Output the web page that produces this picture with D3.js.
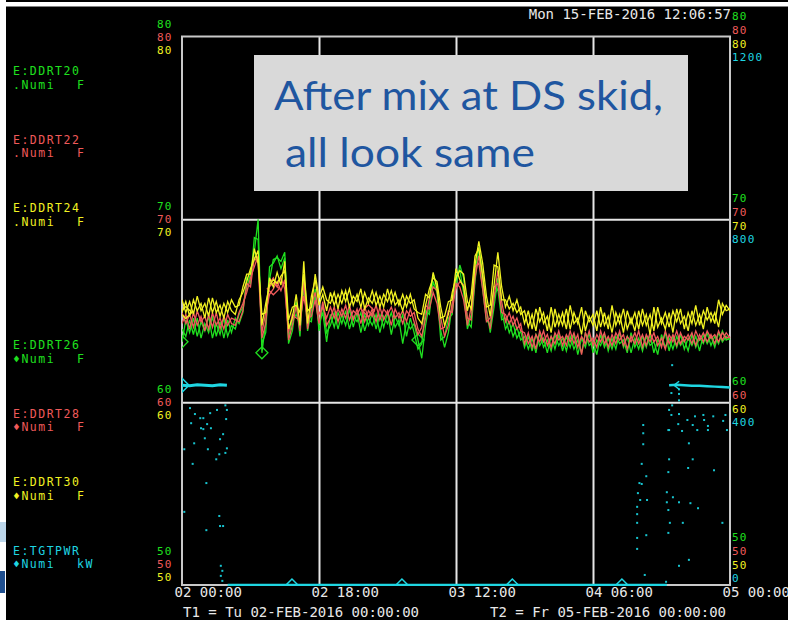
<!DOCTYPE html>
<html>
<head>
<meta charset="utf-8">
<script src="https://cdn.jsdelivr.net/npm/d3@7"></script>
<style>
  html, body { margin: 0; padding: 0; background: #000; overflow: hidden; }
  svg { display: block; }
  .mono { font-family: "DejaVu Sans Mono", "Liberation Mono", monospace; }
</style>
</head>
<body>
<div id="chart"></div>
<script>
// ---- data ----
var seriesNames = ["E:DDRT20", "E:DDRT22", "E:DDRT24", "E:DDRT26", "E:DDRT28", "E:DDRT30", "E:TGTPWR"];
var seriesUnits = ["F", "F", "F", "F", "F", "F", "kW"];
var seriesMarks = [".", ".", ".", "\u2666", "\u2666", "\u2666", "\u2666"];

var tempTicks = [80, 70, 60, 50];
var powerTicks = [1200, 800, 400, 0];
var xTickHours = [0, 18, 36, 54, 72];
var stampText = "Mon 15-FEB-2016 12:06:57";
var t1Text = "T1 = Tu 02-FEB-2016 00:00:00";
var t2Text = "T2 = Fr 05-FEB-2016 00:00:00";
var noteLines = ["After mix at DS skid,", "all look same"];

// temperatures (F), one sample every 30 min from 02-FEB 00:00
var sampleMinutes = 30;
var ddrt20 = [64.0,63.6,64.5,63.7,64.6,63.5,64.3,63.8,64.7,63.6,64.4,63.5,64.5,63.8,64.6,64.3,
  64.9,66.8,66.5,69.0,68.9,63.2,63.8,67.4,67.6,68.0,67.3,67.9,63.5,64.5,64.8,64.2,66.2,64.5,64.4,66.2,63.9,65.3,63.8,
  64.2,64.9,64.0,64.8,64.2,65.1,64.1,64.9,63.8,64.8,64.2,64.9,64.0,64.8,64.1,64.9,63.7,64.7,64.2,64.8,63.6,64.6,
  63.8,62.9,63.2,65.0,64.8,66.6,66.0,63.4,63.6,64.6,64.8,67.0,67.2,66.0,64.0,64.8,67.4,68.0,66.2,64.5,64.2,65.9,66.2,64.5,64.6,63.8,64.3,63.5,63.9,
  63.0,63.6,62.8,63.7,63.1,63.5,62.7,63.6,62.9,63.7,
  62.8,63.6,63.0,63.7,62.6,63.5,63.0,63.8,62.7,63.4,
  63.1,63.7,62.8,63.5,62.9,63.8,63.0,63.6,62.7,63.5,
  62.9,63.6,63.0,63.7,62.7,63.4,63.1,63.8,62.8,63.6,
  63.0,63.7,62.9,63.5,63.1,63.6,62.8,63.7,63.2,63.6,
  63.0,63.8,63.3,63.6,63.4];
var ddrt22 = [64.3,64.8,64.0,64.9,64.2,64.7,63.9,64.8,64.1,64.9,64.0,64.7,64.2,64.6,64.5,64.4,
  65.0,66.5,66.3,67.9,67.6,63.5,64.3,66.5,66.8,66.3,66.8,66.2,63.8,64.8,64.6,64.5,65.8,64.6,64.7,65.6,64.3,65.5,64.2,
  64.6,65.2,64.4,65.1,64.6,65.3,64.5,65.1,64.3,65.2,64.6,65.1,64.4,65.2,64.5,65.0,64.2,65.1,64.6,65.0,64.4,65.1,
  64.4,63.7,64.1,65.3,65.1,66.0,65.4,64.0,64.1,65.0,64.9,66.5,66.3,65.6,64.2,65.2,67.4,67.6,66.2,64.4,64.6,66.3,66.5,64.9,64.8,64.3,64.7,64.0,64.3,
  63.2,63.8,63.0,63.7,63.3,63.9,63.1,63.6,63.2,63.9,
  63.1,63.7,63.3,63.8,63.0,63.6,63.2,63.9,63.1,63.7,
  63.3,63.8,63.0,63.7,63.2,63.9,63.1,63.6,63.3,63.8,
  63.2,63.7,63.1,63.8,63.3,63.6,63.0,63.9,63.2,63.7,
  63.1,63.8,63.3,63.7,63.2,63.9,63.4,63.8,63.3,63.7,
  63.2,63.9,63.4,63.8,63.5];
var ddrt24 = [64.9,65.5,64.7,65.6,65.0,65.4,64.6,65.7,64.9,65.5,64.7,65.4,64.9,65.6,65.2,65.3,
  66.3,67.0,67.0,68.4,67.6,64.8,64.9,66.8,66.3,67.1,66.4,67.7,64.5,65.2,65.3,64.9,67.0,65.0,65.2,67.0,65.7,66.3,65.6,
  65.4,66.0,65.1,66.1,65.5,66.2,65.3,65.9,65.2,66.0,65.4,66.1,65.3,65.8,65.2,66.2,65.4,66.0,65.3,65.9,65.2,65.9,
  65.1,64.9,64.8,65.9,65.7,67.1,66.2,64.6,64.7,65.5,65.6,67.3,66.7,66.3,65.0,65.9,68.0,68.4,66.9,65.2,65.3,67.5,67.4,65.6,65.6,65.1,65.4,64.9,65.2,
  64.3,65.0,64.0,65.1,64.4,64.9,63.9,65.2,64.1,64.8,
  64.2,65.1,64.0,64.9,64.3,65.2,63.9,64.7,64.2,65.0,
  64.1,64.9,64.0,65.3,64.2,64.8,63.8,65.0,64.3,64.9,
  64.0,65.1,64.2,64.8,63.9,65.2,64.3,64.9,64.1,65.0,
  64.4,65.1,64.0,64.9,64.3,65.3,64.2,65.0,64.5,64.9,
  64.3,65.6,64.8,65.3,65.0];
var ddrt26 = [63.3,64.5,63.8,64.6,63.6,64.4,63.9,64.7,63.5,64.3,63.7,64.6,63.6,64.2,64.0,64.8,
  65.2,66.3,67.0,68.2,70.0,62.7,64.4,66.7,67.8,67.9,67.7,68.2,63.2,63.9,65.5,63.6,66.9,63.9,65.0,65.8,64.3,64.9,63.3,
  64.8,64.1,64.9,64.3,65.0,64.0,64.7,64.4,64.9,63.9,64.6,64.2,64.8,63.8,64.7,64.3,64.9,64.1,64.5,63.2,64.4,64.0,
  64.3,63.4,62.4,64.2,65.4,67.0,66.4,63.9,63.0,63.8,65.3,66.4,67.5,66.8,64.4,64.1,66.6,68.5,67.0,65.1,63.8,65.2,66.8,65.0,64.0,64.4,63.6,64.1,63.4,
  63.6,62.9,63.5,62.7,63.8,63.0,63.4,62.8,63.7,63.1,
  63.5,62.8,63.6,62.9,63.4,62.7,63.8,63.1,63.3,62.6,
  63.7,63.0,63.5,62.9,63.6,63.2,63.4,62.7,63.8,63.0,
  63.5,62.8,63.6,63.1,63.3,62.6,63.7,63.0,63.5,62.9,
  63.6,63.1,63.4,62.8,63.7,63.0,63.5,63.2,63.8,63.1,
  63.6,63.2,63.9,63.4,63.5];
var ddrt28 = [64.9,64.3,64.8,64.1,65.0,64.4,64.7,64.0,64.9,64.2,64.6,64.0,64.8,64.3,64.2,64.9,
  65.4,66.0,66.8,67.4,68.0,63.8,64.9,65.9,66.2,66.6,66.1,66.7,63.4,64.2,65.3,63.9,66.6,64.0,65.3,66.0,64.8,65.2,64.6,
  65.2,64.6,65.1,64.7,65.3,64.5,65.0,64.8,65.2,64.4,65.0,64.7,65.3,64.5,65.1,64.8,65.2,64.6,64.9,64.3,65.0,64.7,
  64.9,64.0,63.6,64.6,65.7,66.3,66.1,64.6,63.6,64.2,65.4,66.2,66.6,66.4,64.6,64.5,66.8,68.0,66.9,65.0,64.0,65.7,67.2,65.5,64.4,64.9,64.2,64.6,63.9,
  63.8,63.2,63.6,62.9,63.9,63.3,63.7,63.0,63.8,63.4,
  63.6,63.1,63.9,63.2,63.7,62.6,63.8,63.3,63.5,63.0,
  63.9,63.2,63.6,63.1,63.8,63.4,63.7,62.9,63.6,63.2,
  63.9,63.0,63.7,63.3,63.8,63.1,63.5,62.9,63.7,63.3,
  63.9,63.2,63.6,63.4,63.8,63.1,63.7,63.3,63.9,63.5,
  63.7,63.3,63.8,63.5,63.6];
var ddrt30 = [65.6,64.9,65.5,64.8,65.8,65.0,65.4,64.7,65.7,64.9,65.3,64.6,65.5,65.0,64.8,65.6,
  66.0,66.6,67.3,67.8,68.3,64.2,65.4,66.4,66.7,66.5,66.9,67.2,64.0,64.6,65.9,64.2,67.7,64.3,65.8,66.7,65.3,65.9,65.0,
  66.0,65.3,65.9,65.4,66.1,65.2,65.8,65.5,66.2,65.1,65.7,65.4,66.0,65.2,65.9,65.5,66.1,65.3,65.6,65.0,65.8,65.4,
  65.6,64.6,64.3,65.3,66.2,66.8,66.6,65.2,64.2,64.8,66.0,66.8,67.2,67.0,65.5,65.1,67.5,68.8,67.6,65.8,64.7,66.4,68.2,66.3,65.2,65.8,65.0,65.6,64.8,
  65.0,64.1,64.8,63.9,65.2,64.3,64.7,63.8,65.1,64.2,
  64.9,64.0,65.3,64.3,64.6,63.7,65.0,64.4,64.8,63.9,
  65.2,64.2,64.7,63.8,64.9,64.3,65.1,64.0,64.6,63.9,
  65.0,64.2,64.8,63.7,65.2,64.1,64.6,64.0,64.9,63.8,
  65.1,64.3,64.7,63.9,65.0,64.2,64.8,64.0,65.2,64.4,
  64.9,64.1,65.4,65.0,65.1];

// sample indexes that carry a diamond marker (DDRT26 / 28 / 30)
var mark26 = [0, 21, 62];
var mark28 = [24, 49];
var mark30 = [1];

// target power: continuous trace (NaN = gap), hours / kW
var pwrHours = [0, 1, 2, 3, 4, 5, 5.9, 5.95, 6.0, 63.7, 63.8, 64.0, 65, 66, 67, 68, 69, 70, 71, 72];
var pwrKw = [437, 436, 438, 437, 436, 438, 437, NaN, 0, 0, NaN, 437, 438, 437, 436, 436, 435, 434, 433, 432];
// power markers (hours)
var pwrTriHours = [14.45, 28.9, 43.4, 57.8];
// scattered power samples [hour, kW]
var pwrDots = [
  [1.05,387],[1.7,374],[2.4,365],[2.8,365],[3.7,376],[4.6,383],[5.7,393],[5.9,383],[5.8,363],
  [1.2,354],[2.5,343],[2.8,341],[3.3,352],[3.8,343],[3.0,321],[5.4,330],[5.0,319],[1.6,310],
  [0.3,297],[3.4,297],[5.9,299],[4.9,286],[5.7,289],[4.5,275],[1.4,265],[3.2,223],[0.3,160],
  [4.9,151],[5.0,129],[5.4,129],[3.2,120],[5.1,42],[5.3,31],[5.1,20],[5.3,9],
  [64.3,420],[65.3,428],[65.3,418],[65.3,404],[64.4,393],[64.0,383],[64.3,372],[65.3,374],
  [66.4,361],[67.4,369],[68.5,372],[68.6,361],[69.1,348],[69.8,369],[71.4,372],[71.1,359],
  [71.6,339],[65.2,352],[67.1,350],[67.7,339],[65.7,337],[66.6,310],[69.1,339],[64.0,339],
  [60.6,350],[60.6,332],[60.6,308],[60.4,265],[61.0,238],[60.1,223],[60.4,221],[59.9,201],
  [60.2,186],[61.1,186],[59.8,171],[59.8,155],[59.8,136],[61.0,109],[59.8,103],[59.8,79],
  [60.8,22],[63.9,339],[64.0,275],[63.9,247],[63.7,203],[63.7,181],[63.9,164],[64.1,136],
  [63.9,114],[64.5,192],[65.3,181],[66.8,179],[65.8,136],[67.8,168],[71.0,136],[69.9,251],
  [66.6,55],[65.3,42],[67.1,275],[66.5,256],[63.6,7],[64.4,481]
];

// ---- layout ----
var svgWidth = 788, svgHeight = 620;
var plot = { left: 182, right: 730, top: 36.5, bottom: 585 };
var green = "#1fe01f", red = "#f05a5a", yellow = "#f2f222", cyan = "#1fd6e2";
var labelColors = [green, red, yellow, green, red, yellow, cyan];
var stackColors = [green, red, yellow];

var svg = d3.select("#chart")
  .append("svg")
  .attr("width", svgWidth)
  .attr("height", svgHeight);

svg.append("rect")
  .attr("width", svgWidth).attr("height", svgHeight)
  .attr("fill", "#000");

// slide edges behind the screenshot
svg.append("rect").attr("x", 0).attr("y", 2).attr("width", svgWidth).attr("height", 4.5).attr("fill", "#fff");
svg.append("rect").attr("x", 0).attr("y", 0).attr("width", 6).attr("height", svgHeight).attr("fill", "#fff");
svg.append("rect").attr("x", 0).attr("y", 522).attr("width", 6).attr("height", 20).attr("fill", "#bcd6ea");
svg.append("rect").attr("x", 0).attr("y", 571).attr("width", 5).attr("height", 22).attr("fill", "#1f4f8f");

// scales
var t0 = new Date(2016, 1, 2, 0, 0);
var t1 = d3.timeHour.offset(t0, 72);
var x = d3.scaleTime().domain([t0, t1]).range([plot.left, plot.right]);
var yT = d3.scaleLinear().domain([50, 80]).range([plot.bottom, plot.top]);
var yP = d3.scaleLinear().domain([0, 1200]).range([plot.bottom, plot.top]);
var hourToDate = function(h) { return d3.timeMinute.offset(t0, Math.round(h * 60)); };
var plotW = plot.right - plot.left, plotH = plot.bottom - plot.top;

// grid
svg.append("g")
  .attr("transform", `translate(0, ${plot.bottom})`)
  .call(d3.axisBottom(x).tickValues(xTickHours.slice(1, -1).map(hourToDate)).tickSize(-plotH).tickFormat(""))
  .call(g => g.select(".domain").remove())
  .selectAll("line").attr("stroke", "#e6e6e6").attr("stroke-width", 2);

svg.append("g")
  .attr("transform", `translate(${plot.left}, 0)`)
  .call(d3.axisLeft(yT).tickValues(tempTicks.slice(1, -1)).tickSize(-plotW).tickFormat(""))
  .call(g => g.select(".domain").remove())
  .selectAll("line").attr("stroke", "#e6e6e6").attr("stroke-width", 2);

svg.append("rect")
  .attr("x", plot.left).attr("y", plot.top)
  .attr("width", plotW).attr("height", plotH)
  .attr("fill", "none").attr("stroke", "#c8c8c8").attr("stroke-width", 2);

svg.append("clipPath").attr("id", "clip")
  .append("rect").attr("x", plot.left).attr("y", plot.top - 2)
  .attr("width", plotW + 1).attr("height", plotH + 3);

var chart = svg.append("g").attr("clip-path", "url(#clip)");

// power trace
var pwrData = pwrHours.map((h, i) => ({ t: hourToDate(h), v: pwrKw[i] }));
var pwrLine = d3.line().defined(d => !isNaN(d.v)).x(d => x(d.t)).y(d => yP(d.v));
chart.append("path")
  .datum(pwrData.slice(0, 8))
  .attr("d", pwrLine).attr("fill", "none").attr("stroke", cyan).attr("stroke-width", 3);
chart.append("path")
  .datum(pwrData.slice(7))
  .attr("d", pwrLine).attr("fill", "none").attr("stroke", cyan).attr("stroke-width", 2.5);

chart.append("g").selectAll("rect")
  .data(pwrDots)
  .enter()
  .append("rect")
  .attr("x", d => x(hourToDate(d[0])) - 1)
  .attr("y", d => yP(d[1]) - 1)
  .attr("width", 2).attr("height", 2)
  .attr("fill", "#17c4cf");

// start marker (pointing right) and re-entry marker (pointing left)
var startPt = [x(hourToDate(pwrHours[0])), yP(pwrKw[0])];
chart.append("path")
  .attr("d", `M${startPt[0]},${startPt[1] - 7}L${startPt[0] + 7},${startPt[1]}L${startPt[0]},${startPt[1] + 7}Z`)
  .attr("fill", "none").attr("stroke", cyan).attr("stroke-width", 1.5);
var backPt = [x(hourToDate(pwrHours[11])) + 5, yP(pwrKw[11])];
chart.append("path")
  .attr("d", `M${backPt[0] + 5},${backPt[1] - 4}L${backPt[0]},${backPt[1]}L${backPt[0] + 5},${backPt[1] + 4}`)
  .attr("fill", "none").attr("stroke", cyan).attr("stroke-width", 1.5);

chart.append("g").selectAll("path")
  .data(pwrTriHours)
  .enter()
  .append("path")
  .attr("d", h => {
    var cx = x(hourToDate(h)), cy = yP(0);
    return `M${cx - 6},${cy}L${cx},${cy - 6}L${cx + 6},${cy}`;
  })
  .attr("fill", "none").attr("stroke", cyan).attr("stroke-width", 1.5);

// temperature traces
var tempSeries = [
  { vals: ddrt20, color: green, marks: [] },
  { vals: ddrt26, color: green, marks: mark26 },
  { vals: ddrt22, color: red, marks: [] },
  { vals: ddrt28, color: red, marks: mark28 },
  { vals: ddrt24, color: yellow, marks: [] },
  { vals: ddrt30, color: yellow, marks: mark30 }
];
var tLine = d3.line()
  .x((d, i) => x(d3.timeMinute.offset(t0, i * sampleMinutes)))
  .y(d => yT(d));

tempSeries.forEach(function(s) {
  chart.append("path")
    .datum(s.vals)
    .attr("d", tLine)
    .attr("fill", "none")
    .attr("stroke", s.color)
    .attr("stroke-width", 1.3)
    .attr("stroke-linejoin", "miter");
  chart.append("g").selectAll("path")
    .data(s.marks)
    .enter()
    .append("path")
    .attr("d", i => {
      var cx = x(d3.timeMinute.offset(t0, i * sampleMinutes)), cy = yT(s.vals[i]);
      return `M${cx},${cy - 6}L${cx + 6},${cy}L${cx},${cy + 6}L${cx - 6},${cy}Z`;
    })
    .attr("fill", "none").attr("stroke", s.color).attr("stroke-width", 1.3);
});

// left tick stacks
var leftOffsets = [-9, 4, 17];
tempTicks.forEach(function(v) {
  var shift = v === 50 ? -21 : 0;
  stackColors.forEach(function(c, k) {
    svg.append("text").attr("class", "mono")
      .attr("x", 157).attr("y", yT(v) + leftOffsets[k] + shift)
      .attr("font-size", 11).attr("letter-spacing", 1.2)
      .attr("fill", c).text(v);
  });
});

// right tick stacks
var rightOffsets = [-17, -3, 11, 24];
tempTicks.forEach(function(v, j) {
  var shift = v === 50 ? -27 : 0;
  var vals = [v, v, v, powerTicks[j]];
  var cols = stackColors.concat([cyan]);
  vals.forEach(function(val, k) {
    svg.append("text").attr("class", "mono")
      .attr("x", 732).attr("y", yT(v) + rightOffsets[k] + shift)
      .attr("font-size", 11).attr("letter-spacing", 1.2)
      .attr("fill", cols[k]).text(val);
  });
});

// series legend on the left
seriesNames.forEach(function(name, i) {
  var slot = i < 3 ? i : i + 1;
  var base = 75 + slot * 68.5;
  svg.append("text").attr("class", "mono")
    .attr("x", 13).attr("y", base).attr("font-size", 11.5).attr("letter-spacing", 1.5)
    .attr("fill", labelColors[i]).text(name);
  svg.append("text").attr("class", "mono")
    .attr("x", 13).attr("y", base + 13.5).attr("font-size", 11.5).attr("letter-spacing", 1.5)
    .attr("fill", labelColors[i]).text(seriesMarks[i] + "Numi");
  svg.append("text").attr("class", "mono")
    .attr("x", 77).attr("y", base + 13.5).attr("font-size", 11.5).attr("letter-spacing", 1.5)
    .attr("fill", labelColors[i]).text(seriesUnits[i]);
});

// time axis labels
var xAxis = d3.axisBottom(x)
  .tickValues(xTickHours.map(hourToDate))
  .tickSize(0)
  .tickFormat(d3.timeFormat("%d %H:%M"));
svg.append("g")
  .attr("transform", `translate(0, ${plot.bottom})`)
  .call(xAxis)
  .call(g => g.select(".domain").remove())
  .selectAll("text")
  .attr("class", "mono")
  .attr("font-family", "DejaVu Sans Mono, monospace")
  .attr("font-size", 14)
  .attr("fill", "#e8e8e8")
  .attr("text-anchor", "start")
  .attr("x", -8).attr("y", 12).attr("dy", 0);

svg.append("text").attr("class", "mono")
  .attr("x", 183).attr("y", 617).attr("font-size", 14).attr("fill", "#e8e8e8").text(t1Text);
svg.append("text").attr("class", "mono")
  .attr("x", 490).attr("y", 617).attr("font-size", 14).attr("fill", "#e8e8e8").text(t2Text);
svg.append("text").attr("class", "mono")
  .attr("x", 731).attr("y", 19).attr("font-size", 14).attr("fill", "#e8e8e8")
  .attr("text-anchor", "end").text(stampText);

// annotation box
svg.append("rect")
  .attr("x", 254).attr("y", 55).attr("width", 434).attr("height", 136)
  .attr("fill", "#d9d9d9");
svg.append("text")
  .attr("x", 274).attr("y", 110)
  .attr("font-family", "Lato, 'Open Sans', sans-serif").attr("font-size", 41)
  .attr("fill", "#1f56a0")
  .attr("textLength", 389).attr("lengthAdjust", "spacingAndGlyphs")
  .text(noteLines[0]);
svg.append("text")
  .attr("x", 285).attr("y", 167)
  .attr("font-family", "Lato, 'Open Sans', sans-serif").attr("font-size", 41)
  .attr("fill", "#1f56a0")
  .attr("textLength", 250).attr("lengthAdjust", "spacingAndGlyphs")
  .text(noteLines[1]);
</script>
</body>
</html>
